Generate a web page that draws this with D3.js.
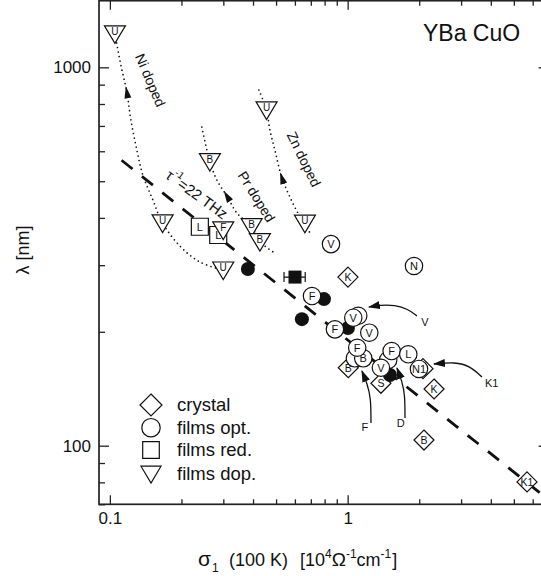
<!DOCTYPE html>
<html>
<head>
<meta charset="utf-8">
<script src="https://cdn.jsdelivr.net/npm/d3@7"></script>
<style>
body { margin: 0; background: #fff; }
svg { display: block; font-family: Arial, "Liberation Sans", sans-serif; }
</style>
</head>
<body>
<svg id="svg" width="541" height="576"></svg>
<script>
// sigma1 [1e4 1/(Ohm cm)], lambda [nm], label
var crystal = [
    [1.003, 279, 'K'],
    [1.006, 160.7, 'B'],
    [1.38, 146.2, 'S'],
    [2.309, 141.2, 'K'],
    [2.094, 103.5, 'B'],
    [5.68, 80.2, 'K1'],
    [2.074, 159.8, '']
];
var filmsOpt = [
    [0.851, 341, 'V'],
    [1.901, 298.5, 'N'],
    [0.708, 248.6, 'F'],
    [1.108, 220.5, ''],
    [1.056, 217.9, 'V'],
    [0.884, 203, 'F'],
    [1.233, 198.9, 'V'],
    [1.073, 170.2, ''],
    [1.163, 170.2, 'B'],
    [1.097, 181.5, 'F'],
    [1.481, 168.5, ''],
    [1.531, 177.9, 'F'],
    [1.38, 160.7, 'V'],
    [1.799, 174.4, 'L'],
    [1.995, 159.5, 'N1']
];
var filledCircles = [
    [0.3805, 293], [0.795, 244], [0.642, 216], [1.003, 204.6], [1.507, 153.8]
];
var filmsRed = [
    [0.239, 379, 'L'],
    [0.2855, 360.5, 'L']
];
// sigma, lambda, sigma low, sigma high
var filledSquares = [[0.6005, 279, 0.54, 0.663]];
var filmsDop = [
    [0.105, 1225, 'U'],
    [0.1666, 387.7, 'U'],
    [0.2997, 291, 'U'],
    [0.2634, 563, 'B'],
    [0.3947, 379, 'B'],
    [0.4276, 346, 'B'],
    [0.456, 771, 'U'],
    [0.661, 387, 'U'],
    [0.2997, 371.5, 'F']
];

// tau^-1 = 22 THz line
var tauLine = [[0.112, 568], [7, 72]];

// doping paths (top to bottom), arrow index
var niPath = [[0.105,1225],[0.1112,1014],[0.1179,860],[0.1226,725],[0.1299,604],[0.1376,519],[0.1517,446],[0.1666,387.7],[0.197,337.2],[0.239,305.9],[0.2997,291]];
var prPath = [[0.2438,695],[0.2634,563],[0.2818,503.7],[0.3105,457],[0.3422,412],[0.3947,379],[0.4276,346],[0.4944,323]];
var znPath = [[0.4233,871],[0.456,771],[0.471,683],[0.4944,604],[0.5293,510],[0.5721,454],[0.618,412],[0.661,387],[0.694,364.7]];
var pathArrows = [2, 3, 4];

// annotation arrows (label end first, tip last)
var annV = [[1.956,220.2],[1.794,229.8],[1.581,235.4],[1.367,235.4],[1.229,232.6]];
var annK1 = [[3.673,151.9],[3.269,162.4],[2.828,166.4],[2.307,164.4]];
var annF = [[1.253,114.8],[1.253,133.7],[1.206,146.4],[1.148,157.6]];
var annD = [[1.742,118.4],[1.742,136.1],[1.692,148.3],[1.612,160.4]];
var annLabels = [[2.114,212.5,'V'],[4.035,146.3,'K1'],[1.182,112.2,'F'],[1.671,115.1,'D']];

var xMajor = [0.1, 1];
var xMinor = [0.2,0.3,0.4,0.5,0.6,0.7,0.8,0.9,2,3,4,5,6,7];
var yMajor = [100, 1000];
var yMinor = [70,80,90,200,300,400,500,600,700,800,900];

var plotL = 99, plotR = 548.6, plotT = 0.7, plotB = 504.3;

var x = d3.scaleLog().domain([0.09, 7]).range([plotL, plotR]);
var y = d3.scaleLog().domain([70, 1500]).range([plotB, plotT]);

var svg = d3.select('svg');
var ink = '#111';

svg.append('defs').append('clipPath').attr('id', 'clip')
    .append('rect').attr('x', plotL).attr('y', plotT)
    .attr('width', plotR - plotL).attr('height', plotB - plotT);

// frame
svg.append('rect')
    .attr('x', plotL).attr('y', plotT)
    .attr('width', plotR - plotL).attr('height', plotB - plotT)
    .attr('fill', 'none').attr('stroke', '#222').attr('stroke-width', 1.7);

function ticks(axis, tr, vals, size, labels) {
    var g = svg.append('g').attr('transform', tr)
        .call(axis.tickValues(vals).tickSize(-size).tickPadding(labels ? 8 : 0)
            .tickFormat(labels ? d3.format('') : ''));
    g.select('.domain').remove();
    g.selectAll('line').attr('stroke', '#222').attr('stroke-width', 1.3);
    g.selectAll('text').attr('font-size', 17).attr('fill', ink)
        .attr('font-family', 'Arial, "Liberation Sans", sans-serif');
    return g;
}
ticks(d3.axisBottom(x), 'translate(0,' + plotB + ')', xMinor, 5, false);
ticks(d3.axisBottom(x), 'translate(0,' + plotB + ')', xMajor, 9, true);
ticks(d3.axisTop(x), 'translate(0,' + plotT + ')', xMinor, 5, false);
ticks(d3.axisTop(x), 'translate(0,' + plotT + ')', xMajor, 9, false);
ticks(d3.axisLeft(y), 'translate(' + plotL + ',0)', yMinor, 6, false);
ticks(d3.axisLeft(y), 'translate(' + plotL + ',0)', yMajor, 10, true);
ticks(d3.axisRight(y), 'translate(' + plotR + ',0)', yMinor, 6, false);
ticks(d3.axisRight(y), 'translate(' + plotR + ',0)', yMajor, 10, false);

var plot = svg.append('g').attr('clip-path', 'url(#clip)');

var line = d3.line().x(function(d){ return x(d[0]); }).y(function(d){ return y(d[1]); });

// dashed tau line
plot.append('path').attr('d', line(tauLine))
    .attr('fill', 'none').attr('stroke', ink)
    .attr('stroke-width', 2.8).attr('stroke-dasharray', '14,12');

// dotted doping paths
var curve = d3.line().curve(d3.curveCatmullRom)
    .x(function(d){ return x(d[0]); }).y(function(d){ return y(d[1]); });
[niPath, prPath, znPath].forEach(function(p, k) {
    plot.append('path').attr('d', curve(p))
        .attr('fill', 'none').attr('stroke', ink).attr('stroke-width', 1.7)
        .attr('stroke-linecap', 'round').attr('stroke-dasharray', '0,4.6');
    var i = pathArrows[k];
    var cx = x(p[i][0]), cy = y(p[i][1]);
    var dx = x(p[i-1][0]) - x(p[i+1][0]), dy = y(p[i-1][1]) - y(p[i+1][1]);
    var n = Math.sqrt(dx*dx + dy*dy); dx /= n; dy /= n;
    var tip = [cx + dx*6, cy + dy*6];
    var b1 = [cx - dx*6 - dy*3.5, cy - dy*6 + dx*3.5];
    var b2 = [cx - dx*6 + dy*3.5, cy - dy*6 - dx*3.5];
    plot.append('path').attr('d', 'M' + tip + 'L' + b1 + 'L' + b2 + 'Z').attr('fill', ink);
});

// annotation arrows
svg.append('defs').append('marker').attr('id', 'head')
    .attr('viewBox', '0 0 12 8').attr('refX', 11).attr('refY', 4)
    .attr('markerWidth', 12).attr('markerHeight', 8)
    .attr('markerUnits', 'userSpaceOnUse').attr('orient', 'auto')
    .append('path').attr('d', 'M0,0L12,4L0,8Z').attr('fill', ink);
var annCurve = d3.line().curve(d3.curveBasis)
    .x(function(d){ return x(d[0]); }).y(function(d){ return y(d[1]); });
[annV, annK1, annF, annD].forEach(function(a) {
    plot.append('path').attr('d', annCurve(a))
        .attr('fill', 'none').attr('stroke', ink).attr('stroke-width', 1.3)
        .attr('marker-end', 'url(#head)');
});
plot.selectAll('.annlab').data(annLabels).enter().append('text')
    .attr('x', function(d){ return x(d[0]); }).attr('y', function(d){ return y(d[1]); })
    .attr('text-anchor', 'middle').attr('dominant-baseline', 'central')
    .attr('font-size', 11).attr('fill', ink)
    .text(function(d){ return d[2]; });

// marker shapes
var shapes = {
    diamond: function(s){ return 'M0,' + (-s) + 'L' + s + ',0L0,' + s + 'L' + (-s) + ',0Z'; },
    square: function(s){ return 'M' + (-s) + ',' + (-s) + 'H' + s + 'V' + s + 'H' + (-s) + 'Z'; },
    tri: function(s){ return 'M' + (-s) + ',' + (-s*0.78) + 'L' + s + ',' + (-s*0.78) + 'L0,' + (s*0.9) + 'Z'; }
};

function drawSet(data, kind, size, fs, ty) {
    var g = plot.selectAll(null).data(data).enter().append('g')
        .attr('transform', function(d){ return 'translate(' + x(d[0]) + ',' + y(d[1]) + ')'; });
    if (kind === 'circle') {
        g.append('circle').attr('r', size);
    } else {
        g.append('path').attr('d', shapes[kind](size));
    }
    g.select(':first-child').attr('fill', '#fff').attr('stroke', ink).attr('stroke-width', 1.2);
    g.append('text').attr('y', ty).attr('text-anchor', 'middle').attr('dominant-baseline', 'central')
        .attr('font-size', fs).attr('fill', ink)
        .text(function(d){ return d[2]; });
}

drawSet(crystal, 'diamond', 10, 10.5, 0);

plot.selectAll(null).data(filledCircles).enter().append('circle')
    .attr('cx', function(d){ return x(d[0]); }).attr('cy', function(d){ return y(d[1]); })
    .attr('r', 7).attr('fill', ink);

drawSet(filmsOpt, 'circle', 8.7, 11, 0);
drawSet(filmsRed, 'square', 8.5, 11, 0);

// filled square with error bar
var fsq = plot.selectAll(null).data(filledSquares).enter().append('g');
fsq.append('path').attr('d', function(d){
    var yy = y(d[1]), a = x(d[2]), b = x(d[3]);
    return 'M' + a + ',' + yy + 'H' + b + 'M' + a + ',' + (yy-5) + 'V' + (yy+5) + 'M' + b + ',' + (yy-5) + 'V' + (yy+5);
}).attr('stroke', ink).attr('stroke-width', 1.2);
fsq.append('rect')
    .attr('x', function(d){ return x(d[0]) - 6.5; }).attr('y', function(d){ return y(d[1]) - 6.5; })
    .attr('width', 13).attr('height', 13).attr('fill', ink);

drawSet(filmsDop, 'tri', 10.5, 10, -2.5);

// text labels
function rotLabel(s, l, ang, txt, size) {
    plot.append('text')
        .attr('transform', 'translate(' + x(s) + ',' + y(l) + ') rotate(' + ang + ')')
        .attr('text-anchor', 'middle').attr('dominant-baseline', 'central')
        .attr('font-size', size).attr('fill', ink).text(txt);
}
rotLabel(0.148, 925, 67, 'Ni doped', 14);
rotLabel(0.4143, 455, 58, 'Pr doped', 14);
rotLabel(0.655, 572, 64, 'Zn doped', 14);

var tau = plot.append('text')
    .attr('transform', 'translate(' + x(0.233) + ',' + y(463) + ') rotate(36)')
    .attr('text-anchor', 'middle').attr('dominant-baseline', 'central')
    .attr('font-size', 15).attr('fill', ink);
tau.append('tspan').text('\u03c4');
tau.append('tspan').attr('dy', -6).attr('font-size', 10).text('-1');
tau.append('tspan').attr('dy', 6).text('=22 THz');

plot.append('text').attr('x', x(2.074)).attr('y', y(1177))
    .attr('font-size', 23).attr('fill', ink).text('YBa CuO');

// legend
var legend = [
    ['diamond', 11, 'crystal'],
    ['circle', 9.2, 'films opt.'],
    ['square', 8.3, 'films red.'],
    ['tri', 10, 'films dop.']
];
var legY = [405, 427.7, 450, 474];
legend.forEach(function(d, i) {
    var g = svg.append('g').attr('transform', 'translate(151,' + legY[i] + ')');
    if (d[0] === 'circle') g.append('circle').attr('r', d[1]);
    else g.append('path').attr('d', shapes[d[0]](d[1]));
    g.select(':first-child').attr('fill', '#fff').attr('stroke', ink).attr('stroke-width', 1.2);
    svg.append('text').attr('x', 177).attr('y', legY[i] + 6.3)
        .attr('font-size', 18.5).attr('fill', ink).text(d[2]);
});

// axis titles
svg.append('text').attr('transform', 'translate(29,250) rotate(-90)')
    .attr('text-anchor', 'middle').attr('font-size', 18).attr('fill', ink)
    .text('\u03bb [nm]');

var xt = svg.append('text').attr('y', 566).attr('font-size', 18).attr('fill', ink);
xt.append('tspan').attr('x', 198).attr('font-size', 21).text('\u03c3');
xt.append('tspan').attr('dx', 1).attr('dy', 6).attr('font-size', 12).text('1');
xt.append('tspan').attr('x', 229).attr('dy', -6).text('(100 K)');
xt.append('tspan').attr('x', 300).text('[10');
xt.append('tspan').attr('dy', -8).attr('font-size', 12).text('4');
xt.append('tspan').attr('dy', 8).attr('font-size', 19).text('\u03a9');
xt.append('tspan').attr('dy', -8).attr('font-size', 12).text('-1');
xt.append('tspan').attr('dy', 8).text('cm');
xt.append('tspan').attr('dy', -8).attr('font-size', 12).text('-1');
xt.append('tspan').attr('dx', 1).attr('dy', 8).text(']');
</script>
</body>
</html>
